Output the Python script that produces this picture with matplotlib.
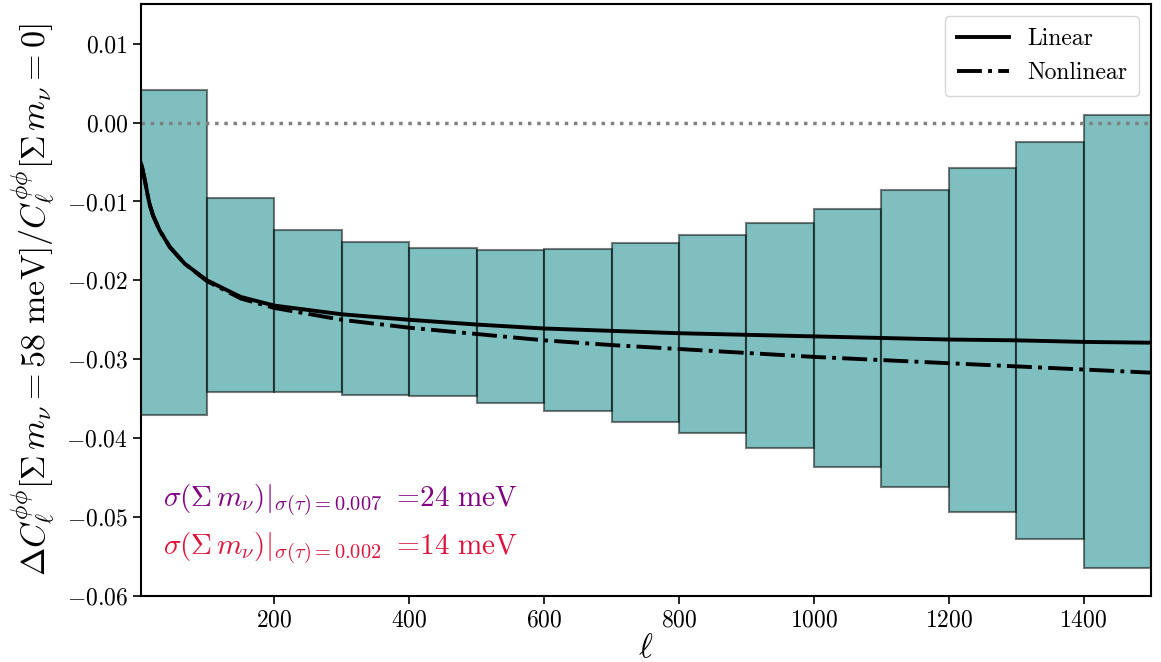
import matplotlib
matplotlib.use("Agg")
import numpy as np
import matplotlib.pyplot as plt

plt.rcParams["font.family"] = "serif"
plt.rcParams["font.serif"] = ["cmr10"]
plt.rcParams["mathtext.fontset"] = "cm"
plt.rcParams["axes.formatter.use_mathtext"] = True

# bin edges in ell and the band limits of each bin
bin_edges = [2, 100, 200, 300, 400, 500, 600, 700, 800, 900, 1000,
             1100, 1200, 1300, 1400, 1500]
band_top = [0.0041, -0.0096, -0.0136, -0.0151, -0.0159, -0.0162, -0.0160,
            -0.0153, -0.0143, -0.0127, -0.0109, -0.0086, -0.0058, -0.0025,
            0.0009]
band_bottom = [-0.0370, -0.0342, -0.0342, -0.0345, -0.0347, -0.0355, -0.0366,
               -0.0379, -0.0393, -0.0413, -0.0436, -0.0462, -0.0493, -0.0528,
               -0.0564]

# curves
ell = [2, 4, 6, 8, 12, 15, 20, 30, 45, 67, 100, 150, 200, 300, 400, 500, 600,
       700, 800, 900, 1000, 1100, 1200, 1300, 1400, 1500]
linear = [-0.0052, -0.0058, -0.0066, -0.0074, -0.0092, -0.0104, -0.0118,
          -0.0137, -0.0158, -0.0179, -0.0200, -0.0221, -0.0232, -0.0243,
          -0.0250, -0.0256, -0.0261, -0.0264, -0.0267, -0.0269, -0.0271,
          -0.0273, -0.0275, -0.0276, -0.0278, -0.0279]
nonlinear = [-0.0052, -0.0058, -0.0066, -0.0074, -0.0092, -0.0104, -0.0118,
             -0.0137, -0.0158, -0.0179, -0.0201, -0.0223, -0.0235, -0.0250,
             -0.0260, -0.0268, -0.0276, -0.0282, -0.0287, -0.0292, -0.0297,
             -0.0301, -0.0305, -0.0309, -0.0313, -0.0317]

fig = plt.figure(figsize=(11.61, 6.62), dpi=100)
ax = fig.add_axes([0.1214, 0.0997, 0.87, 0.894])

left = np.array(bin_edges[:-1])
widths = np.diff(bin_edges)
lo = np.array(band_bottom)
hi = np.array(band_top)
ax.bar(left, hi - lo, width=widths, bottom=lo, align="edge",
       color="teal", alpha=0.5, edgecolor="black", linewidth=1.5, zorder=1)

ax.axhline(0, color="gray", linestyle=":", linewidth=2.5, zorder=2)

ax.plot(ell, linear, color="black", linewidth=2.8, label="Linear", zorder=3)
ax.plot(ell, nonlinear, color="black", linewidth=2.8, linestyle="-.",
        label="Nonlinear", zorder=3)

ax.set_xlim(2, 1500)
ax.set_ylim(-0.06, 0.015)
ax.set_xticks([200, 400, 600, 800, 1000, 1200, 1400])
ax.set_yticks([-0.06, -0.05, -0.04, -0.03, -0.02, -0.01, 0.0, 0.01])
ax.yaxis.set_major_formatter(matplotlib.ticker.FuncFormatter(
    lambda v, p: ("$-$" if v < -1e-9 else "") + f"{abs(v):.2f}"))
ax.tick_params(labelsize=17, length=6, width=1.2)
for s in ax.spines.values():
    s.set_linewidth(1.5)

ax.set_xlabel(r"$\ell$", fontsize=24, labelpad=2)
ax.set_ylabel(r"$\Delta C_\ell^{\phi\phi}[\Sigma\, m_\nu = 58\ \mathrm{meV}]"
              r"/C_\ell^{\phi\phi}[\Sigma\, m_\nu = 0]$", fontsize=24.5,
              labelpad=6)

ax.text(0.022, 0.15,
        r"$\sigma(\Sigma\, m_\nu)|_{\sigma(\tau)=0.007}\ =\!24\ \mathrm{meV}$",
        transform=ax.transAxes, color="purple", fontsize=21)
ax.text(0.022, 0.07,
        r"$\sigma(\Sigma\, m_\nu)|_{\sigma(\tau)=0.002}\ =\!14\ \mathrm{meV}$",
        transform=ax.transAxes, color="crimson", fontsize=21)

ax.legend(loc="upper right", fontsize=17, handlelength=2.2,
          borderpad=0.5, labelspacing=0.5)

fig.savefig("out.png", dpi=100)
